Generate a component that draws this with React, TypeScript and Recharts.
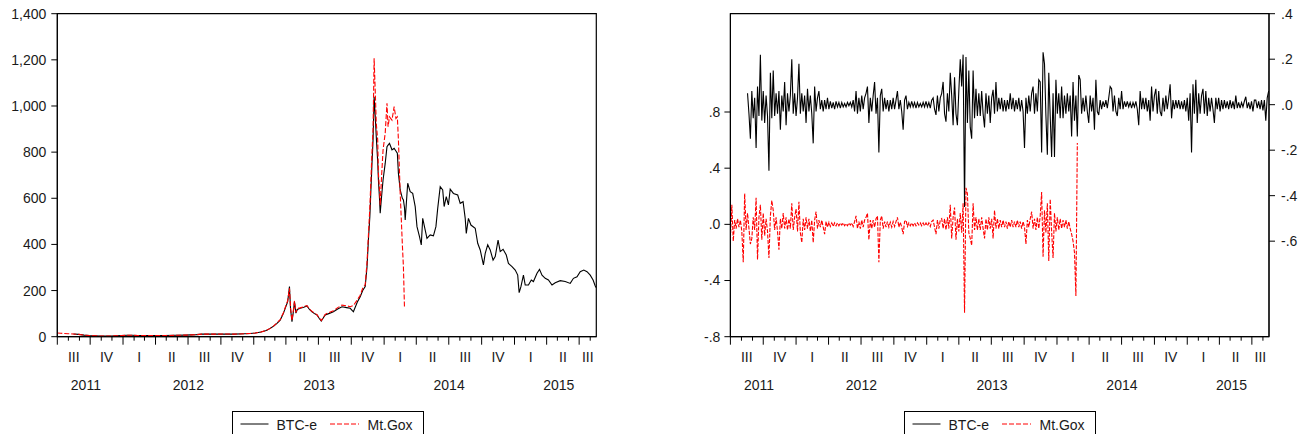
import React from "react";
import { LineChart, Line, XAxis, YAxis, ReferenceArea } from "recharts";

// x positions are days counted from 1 Jul 2011; the window ends mid Aug 2015
const START = Date.UTC(2011, 6, 1);
const DAY_MS = 86400000;
const END_DAY = 1509;
const FONT = "'Liberation Sans', Arial, Helvetica, sans-serif";
const INK = "#1a1a1a";

const seriesNames = ["BTC-e", "Mt.Gox"];

// daily close, USD: [day, price]
const btcePrice: [number, number][] = [
  [45, 12], [60, 10], [75, 7], [90, 5], [105, 4], [120, 3], [135, 3], [150, 3], [165, 4], [180, 5],
  [195, 6], [210, 6], [225, 5], [240, 5], [270, 5], [300, 5], [330, 6], [360, 7], [375, 8], [390, 9],
  [405, 11], [420, 11], [450, 11], [480, 12], [495, 11], [525, 13], [540, 14], [555, 16], [570, 20], [585, 27],
  [596, 36], [605, 45], [615, 58], [624, 72], [633, 101], [638, 123], [645, 152], [650, 217], [653, 120], [657, 65],
  [661, 110], [664, 152], [668, 102], [672, 118], [680, 123], [690, 128], [699, 133], [706, 118], [713, 108], [720, 100],
  [727, 94], [733, 80], [739, 68], [745, 82], [750, 94], [760, 100], [773, 108], [785, 120], [797, 130], [810, 126],
  [820, 123], [829, 108], [840, 150], [848, 173], [855, 200], [862, 217], [867, 300], [871, 419], [875, 520], [878, 636],
  [881, 750], [884, 853], [887, 1040], [890, 960], [893, 867], [897, 760], [899, 679], [902, 600], [904, 535], [908, 610],
  [912, 679], [918, 751], [923, 824], [926, 830], [930, 838], [937, 810], [943, 817], [948, 805], [952, 795], [955, 708],
  [960, 636], [966, 600], [969, 593], [972, 560], [974, 506], [981, 665], [988, 629], [995, 621], [1002, 564], [1007, 477],
  [1014, 434], [1019, 398], [1023, 513], [1030, 462], [1035, 426], [1044, 441], [1053, 437], [1060, 477], [1065, 556], [1072, 650],
  [1079, 636], [1083, 564], [1089, 607], [1095, 571], [1100, 639], [1109, 621], [1121, 614], [1128, 578], [1136, 585], [1142, 513],
  [1145, 448], [1151, 513], [1158, 484], [1170, 470], [1177, 405], [1184, 376], [1193, 311], [1198, 361], [1205, 398], [1212, 376],
  [1220, 332], [1226, 347], [1234, 419], [1240, 369], [1248, 379], [1257, 354], [1263, 318], [1273, 304], [1282, 289], [1289, 267],
  [1293, 191], [1298, 217], [1305, 267], [1310, 224], [1319, 224], [1327, 246], [1333, 239], [1343, 275], [1350, 292], [1357, 267],
  [1366, 253], [1375, 246], [1385, 224], [1394, 234], [1408, 243], [1422, 239], [1436, 231], [1445, 253], [1455, 260], [1464, 282],
  [1474, 289], [1483, 282], [1492, 267], [1500, 246], [1506, 220], [1509, 212],
];

const goxPrice: [number, number][] = [
  [0, 16], [10, 15], [20, 14], [30, 13], [45, 12], [60, 10], [75, 7], [90, 5], [105, 4], [120, 3],
  [135, 3], [150, 3], [165, 4], [180, 5], [195, 6], [210, 6], [225, 5], [240, 5], [270, 5], [300, 5],
  [330, 6], [360, 7], [375, 8], [390, 9], [405, 11], [420, 11], [450, 11], [480, 12], [495, 11], [525, 13],
  [540, 14], [555, 16], [570, 20], [585, 27], [596, 36], [605, 46], [615, 60], [624, 74], [633, 104], [638, 126],
  [645, 156], [650, 210], [653, 125], [657, 70], [661, 115], [664, 155], [668, 105], [672, 122], [680, 125], [690, 130],
  [699, 135], [706, 120], [713, 110], [720, 102], [727, 96], [733, 82], [739, 70], [745, 84], [750, 97], [760, 104],
  [773, 112], [785, 126], [797, 137], [810, 134], [820, 130], [829, 135], [840, 160], [848, 180], [855, 210], [862, 225],
  [867, 320], [871, 440], [875, 560], [878, 680], [881, 800], [884, 900], [887, 1207], [890, 1069], [893, 925], [897, 853],
  [899, 708], [902, 640], [904, 570], [908, 700], [912, 809], [918, 882], [923, 1012], [926, 910], [930, 953], [937, 939],
  [943, 997], [948, 946], [952, 953], [955, 853], [960, 621], [966, 400], [969, 303], [972, 123],
];

// log returns, one reading every 4 days
const RET_STEP = 4;
const btceRetStart = 48;
const btceReturn = [
  .05, -.04, -.15, .06, -.06, .03, -.19, .08, -.05, .22, -.07, .06, -.08,
  .04, -.05, -.29, .14, -.06, .15, -.05, .05, -.04, .06, -.11, .04, -.03, .10, -.09, .05, -.03, .04, .20, -.04, .05, -.05, .03, .18, -.04,
  .05, -.03, .04, -.08, .07, -.03, .04, -.04, -.17, .08, -.03, .03, .06, -.02, .02, -.03, .02, -.02, .03, -.02, .015, -.015, .01, -.02, .015,
  -.01, .01, -.015, .01, -.01, .005, -.01, .01, -.005, .01, -.01, .02, -.03, .06, -.04, .03, -.03, .04, -.02, .03, .05, .08, -.08, .03, -.03,
  .04, .10, -.04, .03, -.21, .04, .07, -.03, .03, -.02, .02, -.03, .02, -.02, .03, -.02, .02, .06, -.02, .02, -.03, -.11, .02, .04, -.02,
  .01, -.01, .015, -.01, .01, -.015, .01, -.01, .005, -.01, .01, -.01, .015, -.01, .01, -.015, .02, .03, -.02, -.045, .04, -.03, .03, .05, .10,
  -.04, -.075, .05, -.03, .14, .04, -.09, .12, -.04, -.09, .06, .20, .08, .22, -.45, .21, -.08, .15, -.10, -.15, .15, -.06, .07, -.05, .05,
  -.05, .06, -.04, -.10, .05, -.04, .04, -.08, .03, .065, -.04, .10, -.03, .03, -.02, .03, -.03, .02, -.03, .02, -.02, .05, -.02, .03, -.03,
  .02, -.02, .03, -.03, .02, -.03, -.19, .03, -.04, .04, -.03, .05, .08, -.04, .05, -.03, .11, .10, -.21, .23, .18, -.05, -.22, .14, -.05,
  -.23, .05, -.23, .11, -.04, .05, -.06, .08, -.06, .04, -.04, .05, -.03, .04, -.14, .10, -.07, .04, -.14, .13, .11, -.04, .03, -.03, .04,
  -.03, -.08, .04, -.03, .03, -.11, .11, -.03, -.045, .02, -.02, .015, -.01, .02, -.015, .03, .08, .07, -.03, .04, -.03, -.05, .03, -.02, .06,
  -.02, .015, -.01, .015, -.01, .01, -.015, .01, -.01, .015, -.02, -.09, .06, -.02, .03, -.02, .03, -.03, .02, -.07, .08, -.03, .04, .07, -.04,
  .06, -.03, -.05, .03, -.03, .04, -.02, .03, .09, -.06, .02, -.02, .02, -.015, .02, -.02, .015, -.02, .02, -.03, .03, -.07, .05, -.21, .09,
  -.04, .11, -.08, .05, -.04, .04, .07, -.04, .06, -.05, .03, -.03, .03, -.02, -.08, .03, -.02, .03, -.03, .02, -.02, .02, -.015, .015, -.02,
  .02, -.015, .015, -.02, .04, -.015, .01, -.015, .01, -.01, .015, .035, -.015, .01, -.02, .015, -.03, .02, .02, -.015, .015, -.02, .02, -.025, .02, -.07, .03, .06,
];

const goxRetStart = 0;
const goxReturn = [
  -.10, .14, -.12, .03, -.03, .04, -.02, .03, -.05, -.27, .22, -.04, .08, -.03, -.14, -.10, .05, -.04, .19, -.25, .05, .14, -.11, .08, -.08,
  .04, -.05, -.24, .06, .17, .10, -.04, .05, -.05, -.18, .04, -.03, .08, -.03, .05, -.04, .04, -.03, .15, -.04, .05, .11, -.05, .16, -.06,
  -.13, .04, -.04, .05, -.03, .04, -.05, .03, -.13, .03, .09, -.03, .03, -.02, .03, -.02, -.07, .02, -.02, .015, -.015, .01, -.015, .01, -.01,
  .01, -.01, .01, -.005, .01, -.01, .005, -.01, .01, -.005, .01, -.015, .02, .06, -.03, .02, -.03, .03, -.02, .03, .05, .08, -.11, .03, -.03,
  .03, -.02, .04, .06, -.27, .03, .06, -.03, .02, -.02, .02, -.02, .015, -.02, .02, -.015, .02, .05, -.02, .015, -.02, -.07, .02, .03, -.015,
  .01, -.01, .01, -.01, .01, -.01, .01, -.005, .01, -.01, .01, -.01, .01, -.01, .01, -.015, .02, .03, -.02, -.07, .03, -.03, .03, .04, -.03,
  .04, -.04, .05, -.03, .14, -.10, .05, .12, -.11, .04, -.05, .08, -.06, .15, -.63, .26, .22, -.06, -.10, -.15, .15, -.04, .05, -.04, .04,
  -.04, .05, -.03, -.10, .04, -.04, .05, -.03, .04, -.10, .10, -.03, .04, -.03, .03, -.02, .03, -.02, .02, -.03, .02, -.02, .03, -.02, .02,
  -.02, .03, -.02, .02, -.03, .02, -.02, -.14, .03, -.02, .04, .09, -.03, .04, -.04, .05, -.03, .06, .23, -.23, .10, -.06, .15, -.26, .18,
  -.05, -.24, .08, -.05, .05, -.04, .04, -.03, .03, -.02, .03, -.03, .02, -.03, -.07, -.12, -.20, -.51, .58,
];

// year labels sit where the picture puts them (day offsets)
const yearLabels: [string, number][] = [["2011", 80], ["2012", 367], ["2013", 733], ["2014", 1097], ["2015", 1404]];

const dayOf = (y: number, m: number) => Math.round((Date.UTC(y, m, 1) - START) / DAY_MS);

type TickInfo = { kind: "month" | "quarter" | "year"; major?: boolean; label?: string };
const tickInfo = new Map<number, TickInfo>();
const roman = ["I", "II", "III", "IV"];
for (let y = 2011; y <= 2015; y++) {
  for (let m = 0; m < 12; m++) {
    const d = dayOf(y, m);
    if (d < 0 || d > END_DAY) continue;
    tickInfo.set(d, { kind: "month", major: m % 3 === 0 });
    if (m % 3 === 0) {
      const qEnd = Math.min(dayOf(y, m + 3), END_DAY);
      tickInfo.set((d + qEnd) / 2, { kind: "quarter", label: roman[m / 3] });
    }
  }
}
yearLabels.forEach(([label, d]) => tickInfo.set(d, { kind: "year", label }));
const xTicks = Array.from(tickInfo.keys()).sort((a, b) => a - b);

function mergeRows(a: [number, number][], b: [number, number][]) {
  const rows = new Map<number, { day: number; btce: number | null; gox: number | null }>();
  const get = (day: number) => {
    if (!rows.has(day)) rows.set(day, { day, btce: null, gox: null });
    return rows.get(day)!;
  };
  a.forEach(([d, v]) => (get(d).btce = v));
  b.forEach(([d, v]) => (get(d).gox = v));
  return Array.from(rows.values()).sort((p, q) => p.day - q.day);
}

const priceRows = mergeRows(btcePrice, goxPrice);
const returnRows = mergeRows(
  btceReturn.map((v, i) => [btceRetStart + i * RET_STEP, v] as [number, number]),
  goxReturn.map((v, i) => [goxRetStart + i * RET_STEP, v] as [number, number])
);

// month ticks (long at quarter starts), roman quarter labels, then the years underneath
function TimeTick(props: any) {
  const { x, y, payload } = props;
  const info = tickInfo.get(payload.value);
  if (!info) return <g />;
  if (info.kind === "month") {
    return <line x1={x} x2={x} y1={y} y2={y + (info.major ? 8 : 4)} stroke="#000" strokeWidth={1} />;
  }
  return (
    <text x={x} y={y + (info.kind === "quarter" ? 25 : 53)} textAnchor="middle" fontSize={14} fontFamily={FONT} fill={INK}>
      {info.label}
    </text>
  );
}

const fmtThousands = (v: number) => v.toLocaleString("en-US");
const fmtDecimal = (v: number) => (Math.abs(v) < 1e-9 ? "0.0" : v.toFixed(1)).replace(/^(-?)0\./, "$1.");

const axisTick = { fontSize: 14, fill: INK, fontFamily: FONT };
const axisStroke = { stroke: "#000" };
const chartMargin = { top: 13.7, bottom: 37.3, left: 0, right: 0 };

function LegendBox({ left }: { left: number }) {
  return (
    <svg style={{ position: "absolute", left, top: 411 }} width={192} height={23}>
      <rect x={0.5} y={0.5} width={191} height={30} fill="#fff" stroke="#000" />
      <line x1={8.5} x2={36.5} y1={13} y2={13} stroke="#000" />
      <text x={44.5} y={18.5} fontSize={14} fontFamily={FONT} fill={INK}>{seriesNames[0]}</text>
      <line x1={98} x2={127} y1={13} y2={13} stroke="#ff0000" strokeDasharray="5 2" />
      <text x={135.5} y={18.5} fontSize={14} fontFamily={FONT} fill={INK}>{seriesNames[1]}</text>
    </svg>
  );
}

function timeAxis() {
  return (
    <XAxis
      dataKey="day"
      type="number"
      domain={[0, END_DAY]}
      ticks={xTicks}
      interval={0}
      tick={TimeTick}
      tickLine={false}
      tickSize={0}
      tickMargin={0}
      axisLine={axisStroke}
      height={60}
      allowDataOverflow
    />
  );
}

export default function App() {
  return (
    <div style={{ position: "absolute", left: 0, top: 0, width: 1300, height: 434, background: "#fff", fontFamily: FONT, overflow: "hidden" }}>
      <div style={{ position: "absolute", left: 0, top: 0 }}>
        <LineChart width={650} height={434} data={priceRows} margin={{ ...chartMargin, right: 53.7 }}>
          {timeAxis()}
          <YAxis
            domain={[0, 1400]}
            ticks={[0, 200, 400, 600, 800, 1000, 1200, 1400]}
            tickFormatter={fmtThousands}
            tick={axisTick}
            tickLine={axisStroke}
            axisLine={axisStroke}
            tickSize={6}
            tickMargin={5}
            width={57.3}
          />
          <ReferenceArea x1={0} x2={END_DAY} y1={0} y2={1400} fill="none" stroke="#000" strokeWidth={1.2} ifOverflow="visible" />
          <Line dataKey="btce" name={seriesNames[0]} stroke="#000" strokeWidth={1.1} dot={false} connectNulls isAnimationActive={false} />
          <Line dataKey="gox" name={seriesNames[1]} stroke="#ff0000" strokeWidth={1.1} strokeDasharray="5 2" dot={false} connectNulls isAnimationActive={false} />
        </LineChart>
      </div>
      <div style={{ position: "absolute", left: 650, top: 0 }}>
        <LineChart width={650} height={434} data={returnRows} margin={chartMargin}>
          {timeAxis()}
          <YAxis
            yAxisId="l"
            domain={[-0.8, 1.5]}
            ticks={[-0.8, -0.4, 0, 0.4, 0.8]}
            tickFormatter={fmtDecimal}
            tick={axisTick}
            tickLine={axisStroke}
            axisLine={axisStroke}
            tickSize={6}
            tickMargin={4}
            width={80.4}
            allowDataOverflow
          />
          <YAxis
            yAxisId="r"
            orientation="right"
            domain={[-1.02, 0.4]}
            ticks={[-0.6, -0.4, -0.2, 0, 0.2, 0.4]}
            tickFormatter={fmtDecimal}
            tick={{ ...axisTick, textAnchor: "start" }}
            tickLine={axisStroke}
            axisLine={axisStroke}
            tickSize={6}
            tickMargin={6}
            width={31}
            allowDataOverflow
          />
          <ReferenceArea yAxisId="l" x1={0} x2={END_DAY} y1={-0.8} y2={1.5} fill="none" stroke="#000" strokeWidth={1.2} ifOverflow="visible" />
          <Line yAxisId="r" dataKey="btce" name={seriesNames[0]} stroke="#000" strokeWidth={1.1} dot={false} isAnimationActive={false} />
          <Line yAxisId="l" dataKey="gox" name={seriesNames[1]} stroke="#ff0000" strokeWidth={1.1} strokeDasharray="4 1.5" dot={false} isAnimationActive={false} />
        </LineChart>
      </div>
      <LegendBox left={231.5} />
      <LegendBox left={904} />
    </div>
  );
}
